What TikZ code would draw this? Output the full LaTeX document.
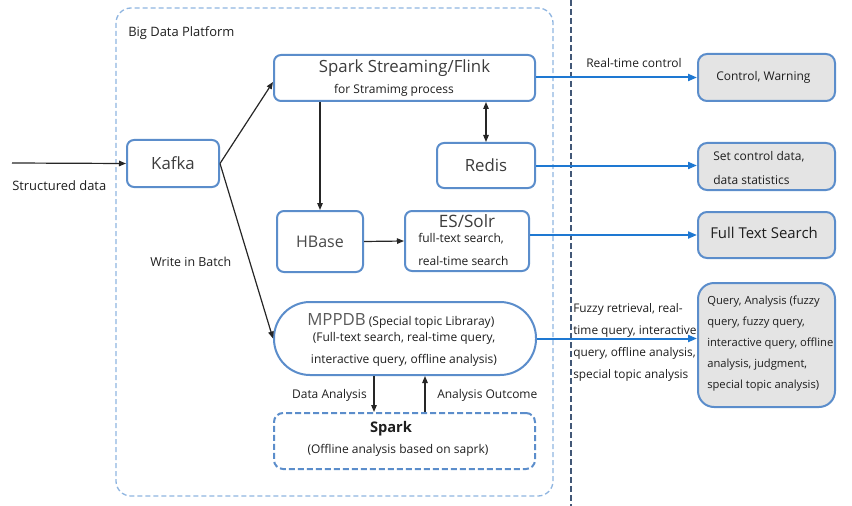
\documentclass[tikz,border=0pt]{standalone}
\usepackage{fontspec}
\setmainfont{Open Sans}
\usetikzlibrary{arrows.meta,calc}
\definecolor{boxblue}{HTML}{5B8DCB}
\definecolor{arrblue}{HTML}{1E78D2}
\definecolor{platblue}{HTML}{8FB5E0}
\definecolor{sepblue}{HTML}{425877}
\definecolor{outgray}{HTML}{E4E4E4}
\definecolor{txt}{HTML}{1E1E1E}
\definecolor{txtbig}{HTML}{3C3C3C}
\definecolor{txtgray}{HTML}{5A5A5A}
\newcommand{\px}{0.75pt}
\tikzset{
  box/.style={draw=boxblue, line width=2*\px, rounded corners=7*\px, fill=white, inner sep=0pt},
  outbox/.style={draw=boxblue, line width=2*\px, rounded corners=9*\px, fill=outgray, inner sep=0pt},
  dbox/.style={draw=boxblue, line width=2*\px, rounded corners=9*\px, dash pattern=on 6*\px off 3*\px, inner sep=0pt},
  barrow/.style={draw=black!85, line width=1.2*\px, -{Triangle[length=7*\px,width=5.5*\px]}},
  blarrow/.style={draw=arrblue, line width=2*\px, -{Triangle[length=9*\px,width=7*\px]}},
  small/.style={font=\fontsize{9pt}{11pt}\selectfont, text=txt, inner sep=0pt},
  big/.style={font=\fontsize{12.6pt}{15pt}\selectfont, text=txtbig, inner sep=0pt},
}
\begin{document}
\begin{tikzpicture}[x=0.75pt,y=-0.75pt]
\useasboundingbox (0,0) rectangle (852,506);
% platform
\draw[draw=platblue, line width=1.3*\px, dash pattern=on 5*\px off 3*\px, rounded corners=15*\px] (116,8) rectangle (553,496);
\node[small, anchor=west, font=\fontsize{9.7pt}{11pt}\selectfont] (plat) at (128,33) {Big Data Platform};
% separator
\draw[draw=sepblue, line width=2.2*\px, dash pattern=on 6*\px off 3*\px] (571,0) -- (571,506);
% boxes
\node[box, minimum width=92*\px, minimum height=47*\px] (kafka) at (173,163.5) {};
\node[big] at (kafka.center) {Kafka};
\node[box, minimum width=261*\px, minimum height=46*\px] (spark) at (404.5,78) {};
\node[big] (sparkt) at (404.5,68) {Spark Streaming/Flink};
\node[small] (sparks) at (394,90) {for Stramimg process};
\node[box, minimum width=98*\px, minimum height=45*\px] (redis) at (486,165.5) {};
\node[big] at (redis.center) {Redis};
\node[box, minimum width=86*\px, minimum height=61*\px] (hbase) at (320,241.5) {};
\node[big, font=\fontsize{12pt}{15pt}\selectfont, text=txtgray!80!black] at (hbase.center) {HBase};
\node[box, minimum width=124*\px, minimum height=60*\px] (es) at (467,241) {};
\node[big, font=\fontsize{12.8pt}{15pt}\selectfont] at (467,221) {ES/Solr};
\node[small, anchor=west] at (418,239) {full-text search,};
\node[small, anchor=west] at (418,261) {real-time search};
\node[box, rounded corners=36*\px, minimum width=262*\px, minimum height=73*\px] (mppdb) at (405,338.5) {};
\node[small, anchor=base west] at (307,325) {{\fontsize{12.6pt}{14pt}\selectfont\color{txtgray}MPPDB} (Special topic Libraray)};
\node[small] at (404,338) {(Full-text search, real-time query,};
\node[small] at (404,360) {interactive query, offline analysis)};
\node[dbox, minimum width=261*\px, minimum height=56*\px] (sparkb) at (404.5,441) {};
\node[big, text=txt, font=\bfseries\fontsize{11pt}{13pt}\selectfont] at (391,429) {Spark};
\node[small] at (398,450) {(Offline analysis based on saprk)};
% outputs
\node[outbox, minimum width=137*\px, minimum height=47*\px] (ctrl) at (766.5,77.5) {};
\node[small, anchor=west] at (716,77) {Control, Warning};
\node[outbox, minimum width=137*\px, minimum height=47*\px] (setc) at (766.5,166.5) {};
\node[small, anchor=west] at (713,157) {Set control data,};
\node[small, anchor=west] at (713,180) {data statistics};
\node[outbox, minimum width=137*\px, minimum height=46*\px] (fts) at (766.5,235) {};
\node[big, text=txt, anchor=west, font=\fontsize{11.2pt}{13pt}\selectfont] at (710,233) {Full Text Search};
\node[outbox, rounded corners=16*\px, minimum width=137*\px, minimum height=124*\px] (query) at (766.5,345) {};
\node[small, anchor=north west, align=left, font=\fontsize{8.4pt}{15.6pt}\selectfont] at (707,296) {Query, Analysis (fuzzy\\query, fuzzy query,\\interactive query, offline\\analysis, judgment,\\special topic analysis)};
% input
\coordinate (in) at (12,163);
\draw[barrow] (in) -- (kafka.west);
\node[small, anchor=west, font=\fontsize{9.7pt}{11pt}\selectfont] at (12,186) {Structured data};
% connectors
\draw[barrow] (kafka.east) -- ($(spark.west)+(0,4)$);
\draw[barrow] (kafka.east) -- (mppdb.west);
\node[small, anchor=west, font=\fontsize{9.3pt}{11pt}\selectfont] at (150,262) {Write in Batch};
\draw[barrow] (hbase.north |- spark.south) -- (hbase.north);
\draw[barrow, {Triangle[length=7*\px,width=5.5*\px]}-{Triangle[length=7*\px,width=5.5*\px]}] (redis.north |- spark.south) -- (redis.north);
\draw[barrow] (hbase.east) -- (es.west);
\draw[barrow] ($(mppdb.south)+(-31,0)$) -- ($(sparkb.north)+(-30.5,0)$);
\node[small, anchor=east] at (367,395) {Data Analysis};
\draw[barrow] ($(sparkb.north)+(20.5,0)$) -- ($(mppdb.south)+(20,0)$);
\node[small, anchor=west] at (437,395) {Analysis Outcome};
% outputs arrows
\draw[blarrow] (spark.east |- ctrl.west) -- (ctrl.west);
\node[small] at (634,63) {Real-time control};
\draw[blarrow] (redis.east) -- (redis.east -| setc.west);
\draw[blarrow] (es.east |- fts.west) -- (fts.west);
\draw[blarrow] (mppdb.east) -- (mppdb.east -| query.west);
\node[small, anchor=north west, align=left, font=\fontsize{8.9pt}{16.5pt}\selectfont] at (573,303) {Fuzzy retrieval, real-\\time query, interactive\\query, offline analysis,\\special topic analysis};
\end{tikzpicture}
\end{document}
